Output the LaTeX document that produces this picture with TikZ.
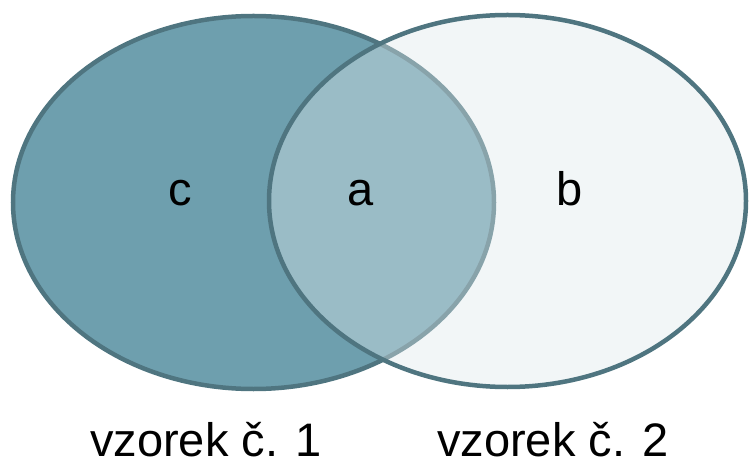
\documentclass[tikz,border=0pt]{standalone}
\usepackage{fontspec}
\setmainfont{Liberation Sans}
\usetikzlibrary{shapes.geometric}
\definecolor{rim}{RGB}{79,117,128}
\definecolor{leftfill}{RGB}{110,159,174}
\definecolor{rightfill}{RGB}{222,232,235}
\tikzset{
  setshape/.style={ellipse, draw=rim, line width=4.5pt, inner sep=0pt},
  lbl/.style={font=\fontsize{47}{50}\selectfont, text=black, inner sep=0pt, anchor=base}
}
\begin{document}
\begin{tikzpicture}[x=1pt,y=-1pt]
\useasboundingbox (0,0) rectangle (749,462);
\node[setshape, fill=leftfill, minimum width=481pt, minimum height=373pt] (s1) at (253.5,202.5) {};
\node[setshape, fill=rightfill, fill opacity=0.4, draw opacity=1, minimum width=477pt, minimum height=372pt] (s2) at (507.5,201) {};
\node[lbl] (c) at (180.5,206) {c};
\node[lbl] (a) at (361,206) {a};
\node[lbl] (b) at (570,206) {b};
\node[lbl] (v1) at (206,456) {vzorek č. 1};
\node[lbl] (v2) at (553,456) {vzorek č. 2};
\end{tikzpicture}
\end{document}
